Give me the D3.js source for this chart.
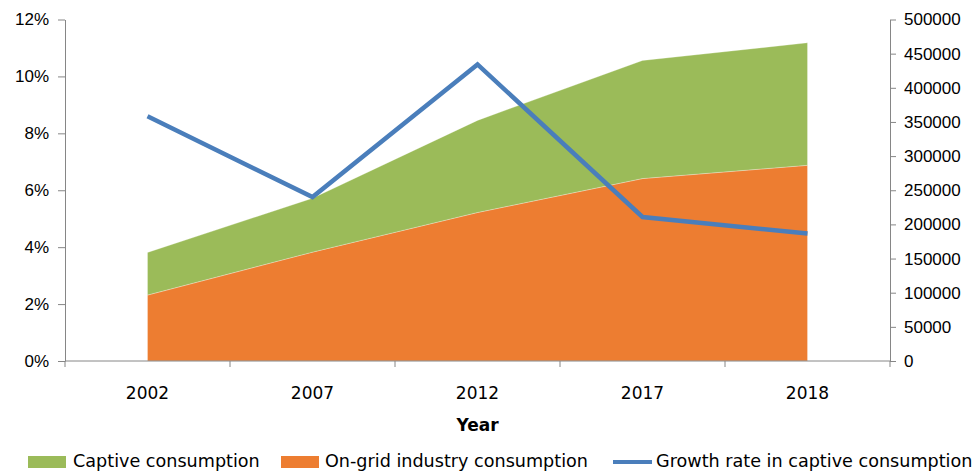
<!DOCTYPE html>
<html>
<head>
<meta charset="utf-8">
<script src="https://d3js.org/d3.v7.min.js"></script>
<style>
body {margin:0; background:white;}
svg {display:block; font-family:"DejaVu Sans", sans-serif;}
.axis path, .axis line {stroke:#868686;}
.axis text {fill:#000; font-size:17px;}
</style>
</head>
<body>
<svg width="979" height="471"></svg>
<script>
// data
var years = ["2002", "2007", "2012", "2017", "2018"];
var ongrid = [96500, 159400, 217400, 267100, 286500];
var captive = [62400, 78900, 134900, 172900, 179400];
var growth = [8.60, 5.76, 10.42, 5.06, 4.48];
var pctTicks = [0, 2, 4, 6, 8, 10, 12];
var valTicks = [0, 50000, 100000, 150000, 200000, 250000, 300000, 350000, 400000, 450000, 500000];

var plotL = 65, plotR = 890, plotT = 19.5, plotB = 361;
var svg = d3.select("svg");

var x = d3.scaleBand().domain(years).range([plotL, plotR]);
var cx = function(d) { return x(d) + x.bandwidth()/2; };
var yL = d3.scaleLinear().domain([0, 12]).range([plotB, plotT]);
var yR = d3.scaleLinear().domain([0, 500000]).range([plotB, plotT]);

var table = years.map(function(y, i) {
  return {year: y, ongrid: ongrid[i], captive: captive[i], growth: growth[i]};
});
var stack = d3.stack().keys(["ongrid", "captive"])(table);
var colors = {ongrid: "#ED7D31", captive: "#9BBB59"};

var area = d3.area()
  .x(function(d) { return cx(d.data.year); })
  .y0(function(d) { return yR(d[0]); })
  .y1(function(d) { return yR(d[1]); });

svg.append("g").selectAll("path")
  .data(stack)
  .enter()
  .append("path")
  .attr("d", area)
  .attr("fill", function(s) { return colors[s.key]; })
  .attr("stroke", "#fff")
  .attr("stroke-opacity", 0.35)
  .attr("stroke-width", 0.8);

// left axis
svg.append("g")
  .attr("class", "axis")
  .attr("transform", "translate(" + plotL + ",0)")
  .call(d3.axisLeft(yL).tickValues(pctTicks).tickSize(7).tickSizeOuter(0).tickPadding(9)
    .tickFormat(function(d) { return d + "%"; }));

// right axis
svg.append("g")
  .attr("class", "axis")
  .attr("transform", "translate(" + plotR + ",0)")
  .call(d3.axisRight(yR).tickValues(valTicks).tickSize(6).tickSizeOuter(0).tickPadding(8)
    .tickFormat(d3.format("d")));

// bottom axis: labels at centers, ticks on band edges
var xg = svg.append("g")
  .attr("class", "axis")
  .attr("transform", "translate(0," + plotB + ")");
xg.append("line").attr("x1", plotL).attr("x2", plotR).attr("stroke", "#868686");
xg.selectAll(".edge")
  .data(years.map(function(d) { return x(d); }).concat([plotR]))
  .enter()
  .append("line")
  .attr("x1", function(d) { return d; })
  .attr("x2", function(d) { return d; })
  .attr("y1", 0).attr("y2", 6)
  .attr("stroke", "#868686");
xg.selectAll(".lab")
  .data(years)
  .enter()
  .append("text")
  .attr("x", cx)
  .attr("y", 38)
  .attr("text-anchor", "middle")
  .text(function(d) { return d; });

svg.append("text")
  .attr("x", (plotL + plotR)/2)
  .attr("y", 431)
  .attr("text-anchor", "middle")
  .style("font-size", "17px")
  .style("font-weight", "bold")
  .text("Year");

// growth line
var line = d3.line()
  .x(function(d) { return cx(d.year); })
  .y(function(d) { return yL(d.growth); });
svg.append("path")
  .datum(table)
  .attr("d", line)
  .attr("fill", "none")
  .attr("stroke", "#4A7EBB")
  .attr("stroke-width", 4.5)
  .attr("stroke-linejoin", "miter");

// legend
var lg = svg.append("g").style("font-size", "17.6px");
lg.append("rect").attr("x", 28).attr("y", 456).attr("width", 38).attr("height", 12).attr("fill", colors.captive);
lg.append("text").attr("x", 73).attr("y", 467).text("Captive consumption");
lg.append("rect").attr("x", 281).attr("y", 456).attr("width", 38).attr("height", 12).attr("fill", colors.ongrid);
lg.append("text").attr("x", 325).attr("y", 467).text("On-grid industry consumption");
lg.append("line").attr("x1", 613).attr("x2", 652).attr("y1", 462).attr("y2", 462)
  .attr("stroke", "#4A7EBB").attr("stroke-width", 4);
lg.append("text").attr("x", 656).attr("y", 467).text("Growth rate in captive consumption");
</script>
</body>
</html>
